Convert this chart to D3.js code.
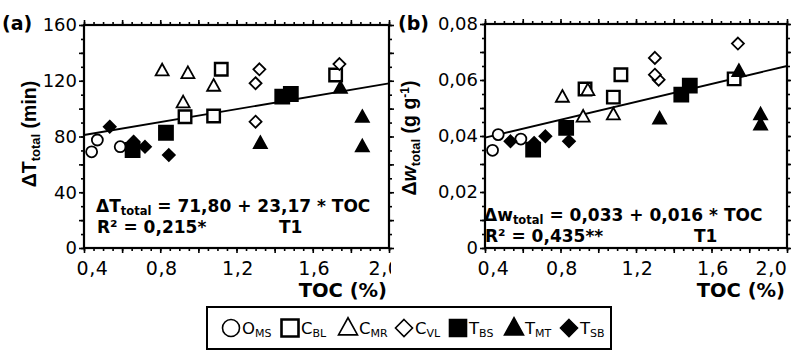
<!DOCTYPE html>
<html>
<head>
<meta charset="utf-8">
<script src="https://cdn.jsdelivr.net/npm/d3@7/dist/d3.min.js"></script>
<style>
  html, body { margin: 0; padding: 0; background: #fff; }
  svg text { font-family: "DejaVu Sans", sans-serif; fill: #000; }
</style>
</head>
<body>
<svg id="chart" width="791" height="352"></svg>
<script>
// TOC (%) and responses per soil group
const tocOMS = [0.44, 0.47, 0.59];
const dtOMS = [69, 77.5, 72.7];
const dwOMS = [0.0349, 0.0405, 0.0389];

const tocCBL = [0.93, 1.08, 1.12, 1.72];
const dtCBL = [94.2, 94.7, 128.2, 124.1];
const dwCBL = [0.0568, 0.0539, 0.0619, 0.0604];

const tocCMR = [0.81, 0.92, 0.945, 1.08];
const dtCMR = [127.2, 104.3, 125.3, 116.2];
const dwCMR = [0.0539, 0.0468, 0.0563, 0.0476];

const tocCVL = [1.32, 1.30, 1.30, 1.74];
const dtCVL = [128.2, 118.2, 90.6, 132];
const dwCVL = [0.0601, 0.0679, 0.0619, 0.073];

const tocTBS = [0.655, 0.83, 1.44, 1.485];
const dtTBS = [70.3, 82.7, 108.6, 110.5];
const dwTBS = [0.0351, 0.0429, 0.0548, 0.058];

const tocTMT = [1.325, 1.745, 1.86, 1.86];
const dtTMT = [75.1, 114.6, 93.8, 72.7];
const dwTMT = [0.0461, 0.0631, 0.0476, 0.044];

const tocTSB = [0.535, 0.66, 0.72, 0.845];
const dtTSB = [87, 76.3, 72.6, 66.7];
const dwTSB = [0.0381, 0.0375, 0.0399, 0.0381];

// regression coefficients printed on the panels
const fitT = [71.80, 23.17];
const fitW = [0.033, 0.016];

const xTicks = [0.4, 0.8, 1.2, 1.6, 2.0];
const yTicksT = [0, 40, 80, 120, 160];
const yTicksW = [0, 0.02, 0.04, 0.06, 0.08];

const groups = [
  { main: 'O', sub: 'MS', shape: 'circle', filled: false, toc: tocOMS, dt: dtOMS, dw: dwOMS },
  { main: 'C', sub: 'BL', shape: 'square', filled: false, toc: tocCBL, dt: dtCBL, dw: dwCBL },
  { main: 'C', sub: 'MR', shape: 'triangle', filled: false, toc: tocCMR, dt: dtCMR, dw: dwCMR },
  { main: 'C', sub: 'VL', shape: 'diamond', filled: false, toc: tocCVL, dt: dtCVL, dw: dwCVL },
  { main: 'T', sub: 'BS', shape: 'square', filled: true, toc: tocTBS, dt: dtTBS, dw: dwTBS },
  { main: 'T', sub: 'MT', shape: 'triangle', filled: true, toc: tocTMT, dt: dtTMT, dw: dwTMT },
  { main: 'T', sub: 'SB', shape: 'diamond', filled: true, toc: tocTSB, dt: dtTSB, dw: dwTSB }
];

const comma = (v, digits) => v.toFixed(digits).replace('.', ',');

// marker outline centred on 0,0; s = nominal width
const markerPath = (shape, s) => {
  const h = s / 2;
  if (shape === 'circle') {
    return `M${h},0A${h},${h} 0 1,1 ${-h},0A${h},${h} 0 1,1 ${h},0Z`;
  }
  if (shape === 'square') return `M${-h},${-h}H${h}V${h}H${-h}Z`;
  if (shape === 'triangle') {
    const th = s * 0.9;
    return `M0,${-th * 0.6}L${h},${th * 0.4}L${-h},${th * 0.4}Z`;
  }
  return `M0,${-h}L${h},0L0,${h}L${-h},0Z`;
};

const markerSize = g => {
  if (g.shape === 'circle') return 11;
  if (g.shape === 'square') return g.filled ? 14 : 12.5;
  if (g.shape === 'triangle') return 13;
  return 12;
};

const svg = d3.select('#chart');
const defs = svg.append('defs');

const drawPanel = (opts) => {
  const x = d3.scaleLinear().domain([0.4, 2.0]).range([opts.left, opts.right]);
  const y = d3.scaleLinear().domain(opts.yDomain).range([opts.bottom, opts.top]);
  const g = svg.append('g');

  const xMinor = d3.range(0, 33).map(i => 0.4 + i * 0.05);
  const xMid = d3.range(0, 9).map(i => 0.4 + i * 0.2);
  const yMinor = d3.range(0, 17).map(i => opts.yDomain[1] * i / 16);
  const yMid = d3.range(0, 9).map(i => opts.yDomain[1] * i / 8);

  const tickSets = [
    [d3.axisBottom, x, `translate(0,${opts.bottom})`, xMinor, 3],
    [d3.axisBottom, x, `translate(0,${opts.bottom})`, xMid, 5],
    [d3.axisTop, x, `translate(0,${opts.top})`, xMinor, 3],
    [d3.axisTop, x, `translate(0,${opts.top})`, xMid, 5],
    [d3.axisLeft, y, `translate(${opts.left},0)`, yMinor, 3],
    [d3.axisLeft, y, `translate(${opts.left},0)`, yMid, 5],
    [d3.axisRight, y, `translate(${opts.right},0)`, yMinor, 3],
    [d3.axisRight, y, `translate(${opts.right},0)`, yMid, 5]
  ];
  tickSets.forEach(([axis, scale, tr, vals, size]) => {
    g.append('g')
      .attr('transform', tr)
      .call(axis(scale).tickValues(vals).tickSize(size).tickFormat(''))
      .call(a => a.select('.domain').remove())
      .call(a => a.selectAll('line').attr('stroke', '#000').attr('stroke-width', 1.6));
  });

  // x tick labels, clipped at the panel's right edge like the original
  defs.append('clipPath').attr('id', 'clip-' + opts.key)
    .append('rect').attr('x', opts.left - 60).attr('y', 0)
    .attr('width', opts.clipRight - opts.left + 60).attr('height', 352);

  g.append('g')
    .attr('clip-path', `url(#clip-${opts.key})`)
    .attr('transform', `translate(0,${opts.bottom})`)
    .call(d3.axisBottom(x).tickValues(xTicks).tickSize(0).tickPadding(14).tickFormat(d => comma(d, 1)))
    .call(a => a.select('.domain').remove())
    .call(a => a.selectAll('text')
      .attr('font-size', 19).attr('letter-spacing', 0.6).attr('font-family', 'DejaVu Sans')
      .attr('dx', (d, i) => i === 0 ? 8 : (i === xTicks.length - 1 ? opts.lastDx : 1)));

  g.append('g')
    .attr('transform', `translate(${opts.left},0)`)
    .call(d3.axisLeft(y).tickValues(opts.yTicks).tickSize(0).tickPadding(7).tickFormat(opts.yFormat))
    .call(a => a.select('.domain').remove())
    .call(a => a.selectAll('text').attr('font-size', 18).attr('font-family', 'DejaVu Sans'));

  // frame
  g.append('rect')
    .attr('x', opts.left).attr('y', opts.top)
    .attr('width', opts.right - opts.left).attr('height', opts.bottom - opts.top)
    .attr('fill', 'none').attr('stroke', '#000').attr('stroke-width', 2.2);

  // regression line
  const fit = opts.fit;
  g.append('line')
    .attr('x1', x(0.4)).attr('y1', y(fit[0] + fit[1] * 0.4))
    .attr('x2', x(2.0)).attr('y2', y(fit[0] + fit[1] * 2.0))
    .attr('stroke', '#000').attr('stroke-width', 1.8);

  // points
  groups.forEach(grp => {
    const vals = grp[opts.key];
    g.append('g').selectAll('path')
      .data(grp.toc.map((t, i) => ({ t, v: vals[i] })))
      .join('path')
      .attr('transform', d => `translate(${x(d.t)},${y(d.v)})`)
      .attr('d', markerPath(grp.shape, markerSize(grp)))
      .attr('fill', grp.filled ? '#000' : '#fff')
      .attr('stroke', '#000')
      .attr('stroke-width', grp.shape === 'square' && !grp.filled ? 2.4 : 1.8);
  });

  // panel letter
  g.append('text')
    .attr('x', opts.letterX).attr('y', 30)
    .attr('font-size', 19).attr('font-weight', 'bold')
    .text(opts.letter);

  // x title
  g.append('text')
    .attr('x', opts.right - 2).attr('y', 297)
    .attr('text-anchor', 'end')
    .attr('font-size', 19.5).attr('font-weight', 'bold')
    .text('TOC (%)');

  // y title
  const yt = g.append('text')
    .attr('transform', `translate(${opts.yTitleX},${opts.yTitleY}) rotate(-90)`)
    .attr('text-anchor', 'middle')
    .style('font-family', '"Liberation Sans", Arial, sans-serif')
    .attr('font-size', 19.5).attr('font-weight', 'bold');
  opts.yTitle(yt);

  // equation
  const eq = g.append('text')
    .attr('x', opts.eqX).attr('y', opts.eqY)
    .attr('font-size', 17).attr('font-weight', 'bold');
  eq.append('tspan').text('\u0394' + opts.eqVar);
  eq.append('tspan').attr('font-size', 11.5).attr('dy', 3).text('total');
  eq.append('tspan').attr('dy', -3).text(opts.eqText);

  g.append('text')
    .attr('x', opts.eqX + 1).attr('y', opts.eqY + 21)
    .attr('font-size', 17).attr('font-weight', 'bold')
    .text(opts.r2);

  g.append('text')
    .attr('x', opts.t1X).attr('y', opts.eqY + 21)
    .attr('font-size', 17).attr('font-weight', 'bold')
    .text('T1');
};

drawPanel({
  letter: '(a)', letterX: 2, key: 'dt',
  left: 84, right: 389, top: 25, bottom: 248, clipRight: 391, lastDx: -5,
  yDomain: [0, 160], yTicks: yTicksT, yFormat: d => String(d),
  fit: fitT,
  eqX: 96, eqY: 212, eqVar: 'T',
  eqText: ` = ${comma(fitT[0], 2)} + ${comma(fitT[1], 2)} * TOC`,
  r2: 'R\u00b2 = 0,215*', t1X: 279,
  yTitleX: 36, yTitleY: 134,
  yTitle: t => {
    t.append('tspan').text('\u0394T');
    t.append('tspan').attr('font-size', 13).attr('dy', 4).text('total');
    t.append('tspan').attr('dy', -4).text(' (min)');
  }
});

drawPanel({
  letter: '(b)', letterX: 398, key: 'dw',
  left: 485, right: 787, top: 24, bottom: 248, clipRight: 791, lastDx: -16,
  yDomain: [0, 0.08], yTicks: yTicksW, yFormat: d => d === 0 ? '0' : comma(d, 2),
  fit: fitW,
  eqX: 484, eqY: 221, eqVar: 'w',
  eqText: ` = ${comma(fitW[0], 3)} + ${comma(fitW[1], 3)} * TOC`,
  r2: 'R\u00b2 = 0,435**', t1X: 694,
  yTitleX: 416, yTitleY: 138,
  yTitle: t => {
    t.append('tspan').text('\u0394');
    t.append('tspan').attr('font-style', 'italic').text('w');
    t.append('tspan').attr('font-size', 13).attr('dy', 4).text('total');
    t.append('tspan').attr('dy', -4).text(' (g g');
    t.append('tspan').attr('font-size', 12).attr('dy', -7).text('-1');
    t.append('tspan').attr('dy', 7).text(')');
  }
});

// legend
const legend = svg.append('g');
legend.append('rect')
  .attr('x', 207).attr('y', 307).attr('width', 404).attr('height', 42)
  .attr('fill', '#fff').attr('stroke', '#000').attr('stroke-width', 2);

const legendX = [231, 290, 348, 404, 458, 514, 569];
groups.forEach((grp, i) => {
  const cx = legendX[i];
  legend.append('path')
    .attr('transform', `translate(${cx},328)`)
    .attr('d', markerPath(grp.shape, grp.shape === 'triangle' ? 19 : 17))
    .attr('fill', grp.filled ? '#000' : '#fff')
    .attr('stroke', '#000')
    .attr('stroke-width', grp.shape === 'square' && !grp.filled ? 2.6 : 1.6);
  const t = legend.append('text')
    .attr('x', cx + 11).attr('y', 334)
    .attr('font-size', 16.5);
  t.append('tspan').text(grp.main);
  t.append('tspan').attr('font-size', 11).attr('dy', 3).text(grp.sub);
});
</script>
</body>
</html>
